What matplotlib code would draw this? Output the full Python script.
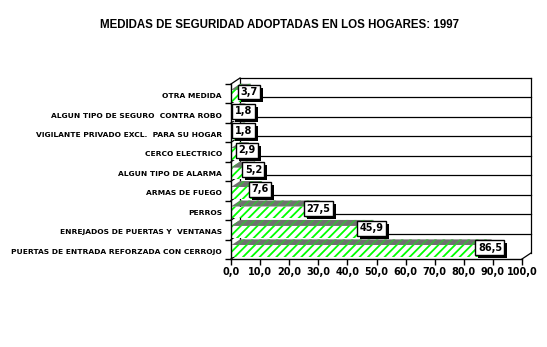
import numpy as np
import matplotlib
matplotlib.use("Agg")
import matplotlib.pyplot as plt
from matplotlib.patches import Polygon, Rectangle

# data, bottom to top
categories = [
    "PUERTAS DE ENTRADA REFORZADA CON CERROJO",
    "ENREJADOS DE PUERTAS Y  VENTANAS",
    "PERROS",
    "ARMAS DE FUEGO",
    "ALGUN TIPO DE ALARMA",
    "CERCO ELECTRICO",
    "VIGILANTE PRIVADO EXCL.  PARA SU HOGAR",
    "ALGUN TIPO DE SEGURO  CONTRA ROBO",
    "OTRA MEDIDA",
]
values = [86.5, 45.9, 27.5, 7.6, 5.2, 2.9, 1.8, 1.8, 3.7]
xticks = np.arange(0, 101, 10)
title = "MEDIDAS DE SEGURIDAD ADOPTADAS EN LOS HOGARES: 1997"

W, H = 547, 347
fig = plt.figure(figsize=(W / 100, H / 100), dpi=100)
fig.patch.set_facecolor("white")

# front plane of the pseudo-3d plot, in pixels
x0, x1 = 231, 522
yb, yt = 259, 84
ax = fig.add_axes([x0 / W, 1 - yb / H, (x1 - x0) / W, (yb - yt) / H])
ax.set_xlim(0, 100)
ax.set_ylim(0, len(categories))
ax.patch.set_alpha(0)

dx = 9 / ((x1 - x0) / 100)        # depth offset in data units
dy = 6 / ((yb - yt) / len(categories))
n = len(categories)

# back wall and side wall grid
lk = dict(color="black", lw=0.9, clip_on=False, zorder=1)
for k in range(1, n + 1):
    ax.plot([dx, 100 + dx], [k + dy, k + dy], **lk)
for k in range(0, n + 1):
    ax.plot([0, dx], [k, k + dy], **lk)
ax.plot([100 + dx, 100 + dx], [dy, n + dy], **lk)
ax.plot([100, 100 + dx], [0, dy], **lk)
ax.plot([dx, dx], [dy, n + dy], **lk)

plt.rcParams["hatch.linewidth"] = 1.3
bar_b, bar_h = 0.1, 0.6
for i, v in enumerate(values):
    yb0 = i + bar_b
    yb1 = yb0 + bar_h
    # side face
    side = [(v, yb0), (v + dx, yb0 + dy), (v + dx, yb1 + dy), (v, yb1)]
    ax.add_patch(Polygon(side, closed=True, facecolor="#808080", edgecolor="#00c000",
                         hatch="////", lw=0, clip_on=False, zorder=3))
    # top face
    top = [(0, yb1), (v, yb1), (v + dx, yb1 + dy), (dx, yb1 + dy)]
    ax.add_patch(Polygon(top, closed=True, facecolor="#707070", edgecolor="#40b040",
                         hatch="////", lw=0, clip_on=False, zorder=3))
    # front face
    ax.add_patch(Rectangle((0, yb0), v, bar_h, facecolor="white", edgecolor="#00ff00",
                           hatch="////", lw=0, clip_on=False, zorder=4))

# value boxes
labels = []
for i, v in enumerate(values):
    s = ("%.1f" % v).replace(".", ",")
    t = ax.text(v + dx - 0.6, i + 0.59, s, ha="center", va="center", fontsize=7,
                fontweight="bold", color="black", zorder=6, clip_on=False,
                bbox=dict(boxstyle="square,pad=0.25", facecolor="white",
                          edgecolor="black", lw=1))
    labels.append(t)

# axes
for sp in ["top", "right"]:
    ax.spines[sp].set_visible(False)
ax.spines["left"].set_linewidth(1)
ax.spines["bottom"].set_linewidth(1)
ax.spines["left"].set_zorder(7)
ax.set_xticks(xticks)
ax.set_xticklabels([("%.1f" % t).replace(".", ",") for t in xticks],
                   fontsize=7, fontweight="bold")
ax.tick_params(axis="x", length=4, width=1, pad=2, direction="out")
ax.set_yticks(np.arange(n) + 0.4)
ax.set_yticklabels(categories, fontsize=5.4, fontweight="bold")
ax.set_yticks(np.arange(n + 1), minor=True)
ax.tick_params(axis="y", which="major", length=0, pad=6.5)
ax.tick_params(axis="y", which="minor", length=4, width=1)

fig.text(279 / W, 1 - 25 / H, title, ha="center", va="center", fontsize=8.3,
         fontweight="bold", family="Liberation Sans")

# black drop shadow behind each value box
fig.canvas.draw()
for t in labels:
    bb = t.get_bbox_patch().get_window_extent()
    ax.add_patch(Rectangle((bb.x0 + 3, bb.y0 - 3), bb.width, bb.height, transform=None,
                           facecolor="black", edgecolor="none", zorder=5, clip_on=False))

fig.savefig("out.png", dpi=100)
